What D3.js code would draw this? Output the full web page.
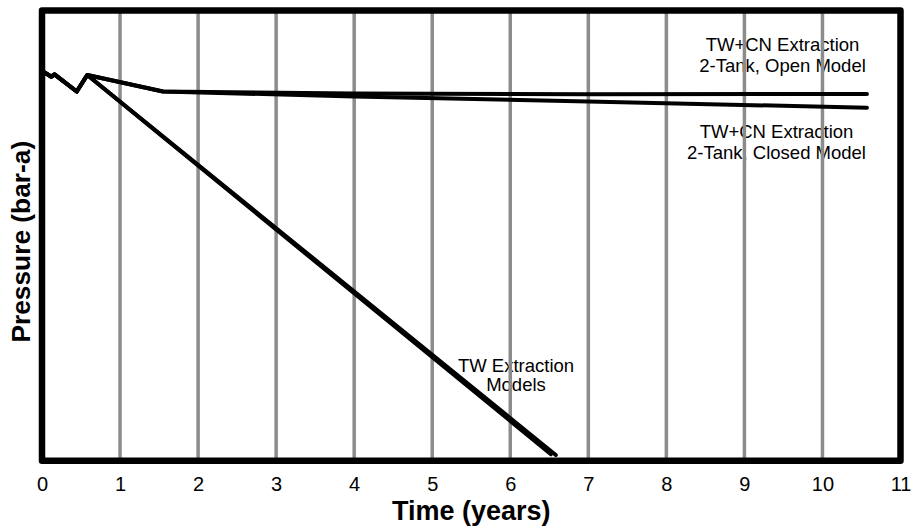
<!DOCTYPE html>
<html>
<head>
<meta charset="utf-8">
<script src="https://cdn.jsdelivr.net/npm/d3@7/dist/d3.min.js"></script>
<style>
  html, body { margin: 0; padding: 0; background: #fff; }
  svg { display: block; font-family: "Liberation Sans", Arial, sans-serif; }
</style>
</head>
<body>
<svg id="chart" width="917" height="532"></svg>
<script>
// Time axis (years)
const xTicks = [0, 1, 2, 3, 4, 5, 6, 7, 8, 9, 10, 11];
const xDomain = [0, 11];
// Pressure axis (relative bar-a, no tick labels shown)
const yDomain = [0, 100];

// Shared history-match period
const historyT = [0.00, 0.12, 0.16, 0.445, 0.58];
const historyP = [86.6, 85.3, 85.8, 82.0, 85.67];

// TW+CN extraction, 2-tank open model
const openT = [1.55, 4.0, 7.0, 10.57];
const openP = [82.01, 81.56, 81.40, 81.45];

// TW+CN extraction, 2-tank closed model
const closedT = [1.55, 4.0, 7.0, 10.57];
const closedP = [82.01, 80.90, 79.79, 78.41];

// TW extraction models (two nearly coincident runs)
const tw1T = [6.583];
const tw1P = [1.27];
const tw2T = [6.52];
const tw2P = [1.45];

// Annotation text
const labelOpen = ["TW+CN Extraction", "2-Tank, Open Model"];
const labelClosed = ["TW+CN Extraction", "2-Tank, Closed Model"];
const labelTW = ["TW Extraction", "Models"];

const svg = d3.select("#chart");
const plotL = 42, plotR = 900.5, plotT = 10.5, plotB = 460.7;

const x = d3.scaleLinear().domain(xDomain).range([plotL, plotR]);
const y = d3.scaleLinear().domain(yDomain).range([plotB, plotT]);

const zip = (ts, ps) => ts.map((t, i) => [t, ps[i]]);
const history = zip(historyT, historyP);
const series = [
  history.concat(zip(openT, openP)),
  history.concat(zip(closedT, closedP)),
  history.concat(zip(tw1T, tw1P)),
  history.concat(zip(tw2T, tw2P))
];

// Text annotations sit beneath the grid
function annotate(lines, cx, baseY, lh) {
  const t = svg.append("text")
    .attr("text-anchor", "middle")
    .style("font-size", "18.5px")
    .attr("fill", "#000");
  lines.forEach((s, i) => {
    t.append("tspan").attr("x", cx).attr("y", baseY + i * lh).text(s);
  });
}
annotate(labelOpen, 782.5, 50.7, 21);
annotate(labelClosed, 776.5, 138.3, 20.5);
annotate(labelTW, 516, 371.7, 19.5);

// Vertical grid lines at each year
svg.append("g")
  .selectAll("line")
  .data(xTicks.filter(d => d > xDomain[0] && d < xDomain[1]))
  .join("line")
  .attr("x1", d => x(d)).attr("x2", d => x(d))
  .attr("y1", plotT).attr("y2", plotB)
  .attr("stroke", "#8c8c8c")
  .attr("stroke-width", 3.5);

// Pressure curves
const line = d3.line().x(d => x(d[0])).y(d => y(d[1]));
svg.append("g")
  .selectAll("path")
  .data(series)
  .join("path")
  .attr("d", line)
  .attr("fill", "none")
  .attr("stroke", "#000")
  .attr("stroke-width", 4)
  .attr("stroke-linejoin", "round")
  .attr("stroke-linecap", "round");

// Plot frame
svg.append("rect")
  .attr("x", plotL).attr("y", plotT)
  .attr("width", plotR - plotL).attr("height", plotB - plotT)
  .attr("fill", "none")
  .attr("stroke", "#000")
  .attr("stroke-width", 6.5)
  .attr("stroke-linejoin", "round");

// Time axis labels
const xAxis = d3.axisBottom(x).tickValues(xTicks).tickSize(0).tickPadding(16.5).tickFormat(d3.format("d"));
const gx = svg.append("g").attr("transform", `translate(0,${plotB})`).call(xAxis);
gx.select(".domain").remove();
gx.attr("font-family", null).attr("font-size", null);
gx.selectAll("text").style("font-size", "20px").attr("fill", "#000");

// Axis titles
svg.append("text")
  .attr("x", (plotL + plotR) / 2).attr("y", 520)
  .attr("text-anchor", "middle")
  .style("font-size", "27px").attr("font-weight", "bold")
  .text("Time (years)");

svg.append("text")
  .attr("transform", "translate(29.5,241.7) rotate(-90)")
  .attr("text-anchor", "middle")
  .style("font-size", "26.3px").attr("font-weight", "bold")
  .text("Pressure (bar-a)");
</script>
</body>
</html>
